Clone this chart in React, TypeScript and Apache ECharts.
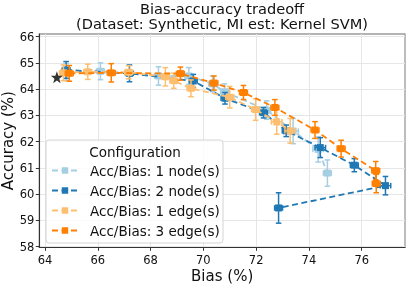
import { useEffect, useRef } from 'react';
import * as echarts from 'echarts';

const xTicks = [64, 66, 68, 70, 72, 74, 76];
const yTicks = [58, 59, 60, 61, 62, 63, 64, 65, 66];

const seriesNames = [
  'Acc/Bias: 1 node(s)',
  'Acc/Bias: 2 node(s)',
  'Acc/Bias: 1 edge(s)',
  'Acc/Bias: 3 edge(s)',
];
const colors = ['#a6cee3', '#1f78b4', '#fdbf6f', '#ff7f00'];

const node1Bias = [64.8, 66.1, 68.3, 69.45, 70.35, 70.8, 72.4, 73.4, 74.35, 74.7];
const node1Acc = [64.65, 64.68, 64.5, 64.5, 64.2, 63.9, 63.2, 62.4, 61.7, 60.8];
const node1BiasErr = [0.15, 0.15, 0.15, 0.15, 0.15, 0.15, 0.15, 0.2, 0.2, 0.15];
const node1AccErr = [0.32, 0.32, 0.35, 0.32, 0.3, 0.3, 0.35, 0.48, 0.48, 0.5];

const node2Bias = [64.8, 67.2, 69.62, 70.82, 72.28, 73.14, 74.43, 75.72, 76.9, 72.85];
const node2Acc = [64.73, 64.6, 64.31, 63.65, 63.1, 62.41, 61.77, 61.1, 60.32, 59.47];
const node2BiasErr = [0.15, 0.15, 0.15, 0.15, 0.15, 0.15, 0.2, 0.15, 0.2, 0.15];
const node2AccErr = [0.32, 0.32, 0.25, 0.22, 0.2, 0.22, 0.38, 0.25, 0.35, 0.58];

const edge1Bias = [64.7, 65.62, 67.17, 68.56, 68.88, 69.53, 71.0, 71.98, 72.78, 73.29];
const edge1Acc = [64.62, 64.66, 64.64, 64.47, 64.32, 64.03, 63.69, 63.22, 62.75, 62.41];
const edge1BiasErr = [0.15, 0.15, 0.15, 0.15, 0.15, 0.15, 0.15, 0.15, 0.2, 0.2];
const edge1AccErr = [0.3, 0.29, 0.25, 0.35, 0.29, 0.32, 0.41, 0.41, 0.47, 0.47];

const edge3Bias = [64.92, 66.51, 69.13, 70.4, 71.52, 72.71, 74.23, 75.22, 76.53, 76.55];
const edge3Acc = [64.6, 64.62, 64.59, 64.23, 63.87, 63.3, 62.44, 61.73, 60.89, 60.4];
const edge3BiasErr = [0.15, 0.15, 0.15, 0.15, 0.15, 0.15, 0.15, 0.15, 0.15, 0.15];
const edge3AccErr = [0.3, 0.35, 0.25, 0.27, 0.27, 0.3, 0.32, 0.32, 0.35, 0.35];

const baselineBias = [64.45];
const baselineAcc = [64.45];

const allBias = [node1Bias, node2Bias, edge1Bias, edge3Bias];
const allAcc = [node1Acc, node2Acc, edge1Acc, edge3Acc];
const allBiasErr = [node1BiasErr, node2BiasErr, edge1BiasErr, edge3BiasErr];
const allAccErr = [node1AccErr, node2AccErr, edge1AccErr, edge3AccErr];

const FONT = 'DejaVu Sans';
const STAR =
  'path://M0,-10 L2.35,-3.24 L9.51,-3.09 L3.8,1.24 L5.88,8.09 L0,4 L-5.88,8.09 L-3.8,1.24 L-9.51,-3.09 L-2.35,-3.24 Z';

export default function App() {
  const ref = useRef<HTMLDivElement>(null);
  useEffect(() => {
    if (!ref.current) return;
    const chart = echarts.init(ref.current, null, { renderer: 'svg' });

    const errSeries = allBias.map((xs, i) => ({
      type: 'custom',
      name: 'err' + i,
      z: 2 + i * 2,
      silent: true,
      data: xs.map((x, j) => [x, allAcc[i][j], allBiasErr[i][j], allAccErr[i][j]]),
      encode: { x: 0, y: 1 },
      renderItem: (params: any, api: any) => {
        const x = api.value(0);
        const y = api.value(1);
        const xe = api.value(2);
        const ye = api.value(3);
        const top = api.coord([x, y + ye]);
        const bot = api.coord([x, y - ye]);
        const lft = api.coord([x - xe, y]);
        const rgt = api.coord([x + xe, y]);
        const cap = 2.8;
        const style = { stroke: colors[i], lineWidth: 1.5 };
        const mk = (x1: number, y1: number, x2: number, y2: number) => ({
          type: 'line',
          shape: { x1, y1, x2, y2 },
          style,
        });
        return {
          type: 'group',
          children: [
            mk(top[0], top[1], bot[0], bot[1]),
            mk(top[0] - cap, top[1], top[0] + cap, top[1]),
            mk(bot[0] - cap, bot[1], bot[0] + cap, bot[1]),
            mk(lft[0], lft[1], rgt[0], rgt[1]),
            mk(lft[0], lft[1] - cap, lft[0], lft[1] + cap),
            mk(rgt[0], rgt[1] - cap, rgt[0], rgt[1] + cap),
          ],
        };
      },
    }));

    const lineSeries = allBias.map((xs, i) => ({
      type: 'line',
      name: seriesNames[i],
      z: 3 + i * 2,
      data: xs.map((x, j) => [x, allAcc[i][j]]),
      symbol: 'rect',
      symbolSize: 7,
      showSymbol: true,
      color: colors[i],
      itemStyle: { color: colors[i] },
      lineStyle: { color: colors[i], width: 1.8, type: [6, 3.5] },
    }));

    chart.setOption({
      animation: false,
      textStyle: { fontFamily: FONT },
      grid: {
        left: 39.3,
        right: 2,
        top: 34,
        bottom: 36.7,
        containLabel: false,
        outerBoundsMode: 'none',
        show: true,
        borderColor: '#9a9a9a',
        borderWidth: 1.3,
        backgroundColor: 'transparent',
      },
      xAxis: {
        type: 'value',
        min: 63.784,
        max: 77.64,
        name: 'Bias (%)',
        nameLocation: 'middle',
        nameGap: 21.5,
        nameMoveOverlap: false,
        nameTextStyle: { fontSize: 15, color: '#111', fontFamily: FONT, lineHeight: 15 },
        axisLine: { show: true, lineStyle: { color: '#333', width: 1.1 } },
        axisTick: { show: true, length: 3.5, lineStyle: { color: '#333' }, customValues: xTicks },
        axisLabel: {
          fontSize: 11.5,
          color: '#111',
          margin: 6.5,
          fontFamily: FONT,
          customValues: xTicks,
          formatter: (v: number) => String(Math.round(v)),
        },
        splitLine: { show: true, lineStyle: { color: '#e6e6e6', width: 1 } },
      },
      yAxis: {
        type: 'value',
        min: 57.97,
        max: 66.1,
        name: 'Accuracy (%)',
        nameLocation: 'middle',
        nameGap: 24,
        nameRotate: 90,
        nameMoveOverlap: false,
        nameTextStyle: { fontSize: 15, color: '#111', fontFamily: FONT, lineHeight: 15 },
        axisLine: { show: true, lineStyle: { color: '#333', width: 1.1 } },
        axisTick: { show: true, length: 3.5, lineStyle: { color: '#333' }, customValues: yTicks },
        axisLabel: {
          fontSize: 11.5,
          color: '#111',
          margin: 5,
          fontFamily: FONT,
          customValues: yTicks,
          formatter: (v: number) => String(Math.round(v)),
        },
        splitLine: { show: true, lineStyle: { color: '#e6e6e6', width: 1 } },
      },
      title: {
        text: 'Bias-accuracy tradeoff\n(Dataset: Synthetic, MI est: Kernel SVM)',
        left: 222,
        textAlign: 'center',
        top: 0.5,
        textStyle: { fontSize: 14.6, fontWeight: 'normal', color: '#111', fontFamily: FONT, lineHeight: 15.5 },
        padding: 0,
      },
      legend: {
        data: seriesNames,
        orient: 'vertical',
        left: 51,
        top: 163.5,
        itemWidth: 26,
        itemHeight: 8,
        itemGap: 6,
        padding: 0,
        z: 100,
        textStyle: { fontSize: 13.5, color: '#111', fontFamily: FONT, padding: [0, 0, 0, 7], lineHeight: 14 },
        selectedMode: false,
      },
      graphic: [
        {
          type: 'rect',
          z: 90,
          shape: { x: 46, y: 140, width: 177, height: 103, r: 3 },
          style: { fill: 'rgba(255,255,255,0.82)', stroke: '#d4d4d4', lineWidth: 1 },
        },
        {
          type: 'text',
          z: 101,
          x: 135,
          y: 151.7,
          style: {
            text: 'Configuration',
            fontSize: 13.5,
            fontFamily: FONT,
            fill: '#111',
            align: 'center',
            verticalAlign: 'middle',
          },
        },
      ],
      series: [
        ...errSeries,
        ...lineSeries,
        {
          type: 'scatter',
          name: 'baseline',
          z: 20,
          data: baselineBias.map((x, j) => [x, baselineAcc[j]]),
          symbol: STAR,
          symbolSize: 12,
          itemStyle: { color: '#000' },
        },
      ],
    });
    return () => chart.dispose();
  }, []);
  return <div ref={ref} style={{ position: 'fixed', left: 0, top: 0, width: 407, height: 284 }} />;
}
